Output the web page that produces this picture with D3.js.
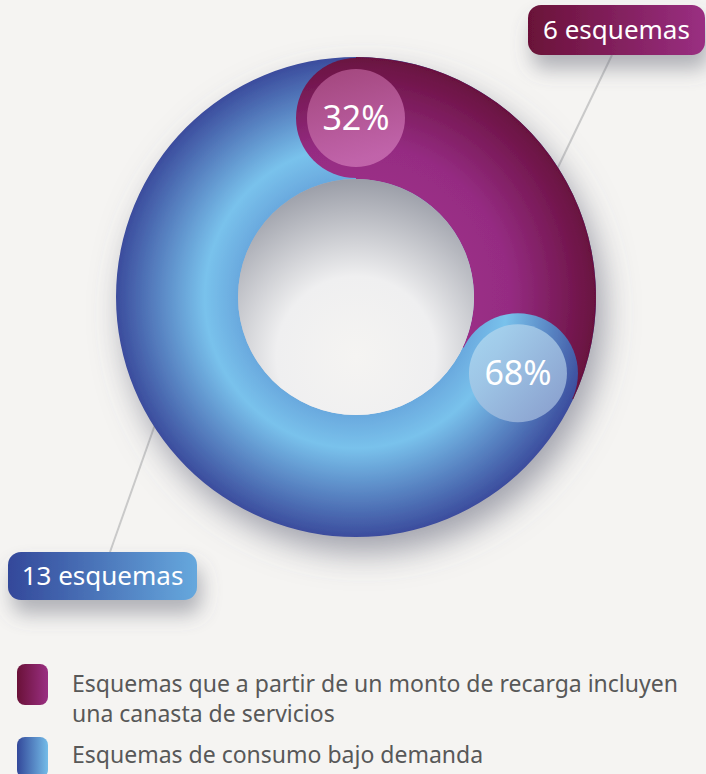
<!DOCTYPE html>
<html>
<head>
<meta charset="utf-8">
<script src="https://cdn.jsdelivr.net/npm/d3@7"></script>
<style>
  body { margin: 0; background: #f5f4f2; }
  svg { display: block; font-family: "Noto Sans", "Open Sans", sans-serif; }
</style>
</head>
<body>
<script>
// data
var categories = ["Esquemas que a partir de un monto de recarga incluyen una canasta de servicios",
                  "Esquemas de consumo bajo demanda"];
var legendLines = [["Esquemas que a partir de un monto de recarga incluyen", "una canasta de servicios"],
                   ["Esquemas de consumo bajo demanda"]];
var counts = [6, 13];
var percents = [32, 68];
var pctLabels = ["32%", "68%"];
var countLabels = ["6 esquemas", "13 esquemas"];

var width = 706, height = 774;
var cx = 356, cy = 297, outerR = 240, innerR = 118;
var midR = (outerR + innerR) / 2, capR = (outerR - innerR) / 2;

var svg = d3.select("body").append("svg")
    .attr("width", width)
    .attr("height", height);

var defs = svg.append("defs");

// radial gradients along the ring (group is translated, so centre is 0,0)
function ringGradient(id, stops) {
  var g = defs.append("radialGradient").attr("id", id)
      .attr("gradientUnits", "userSpaceOnUse")
      .attr("cx", 0).attr("cy", 0).attr("r", outerR);
  stops.forEach(function(s) {
    g.append("stop").attr("offset", s[0]).attr("stop-color", s[1]);
  });
}
ringGradient("ringPurple", [[innerR / outerR, "#9a2e86"], [0.64, "#952c82"], [1, "#69113f"]]);
ringGradient("ringBlue", [[innerR / outerR, "#6aa9de"], [0.63, "#79c2ec"], [1, "#3b4c9d"]]);

function linGradient(id, c0, c1, x2, y2) {
  var g = defs.append("linearGradient").attr("id", id)
      .attr("x1", 0).attr("y1", 0).attr("x2", x2).attr("y2", y2);
  g.append("stop").attr("offset", 0).attr("stop-color", c0);
  g.append("stop").attr("offset", 1).attr("stop-color", c1);
}
linGradient("boxPurple", "#6a1138", "#9a2f82", 1, 0);
linGradient("boxBlue", "#33489a", "#66a8dd", 1, 0);
linGradient("swPurple", "#6a1138", "#9a2f82", 1, 0);
linGradient("swBlue", "#33489a", "#74bce8", 1, 0);
linGradient("capPurple", "#a64a80", "#c468ad", 0.3, 1);
linGradient("capBlue", "#acdaf2", "#8ea2cf", 1, 1);

var hole = defs.append("radialGradient").attr("id", "hole")
    .attr("cx", 0.5).attr("cy", 0.75).attr("r", 0.75);
hole.append("stop").attr("offset", 0).attr("stop-color", "#f5f4f2");
hole.append("stop").attr("offset", 0.45).attr("stop-color", "#efeff0");
hole.append("stop").attr("offset", 1).attr("stop-color", "#9a9da7");

var shadow = defs.append("filter").attr("id", "shadow")
    .attr("x", "-30%").attr("y", "-30%").attr("width", "160%").attr("height", "160%");
shadow.append("feDropShadow").attr("dx", 8).attr("dy", 16).attr("stdDeviation", 16)
    .attr("flood-color", "#5d6172").attr("flood-opacity", 0.55);

var boxShadow = defs.append("filter").attr("id", "boxShadow")
    .attr("x", "-30%").attr("y", "-50%").attr("width", "160%").attr("height", "250%");
boxShadow.append("feDropShadow").attr("dx", 4).attr("dy", 14).attr("stdDeviation", 10)
    .attr("flood-color", "#5d6172").attr("flood-opacity", 0.45);

var pie = d3.pie().sort(null).value(function(d) { return d; });
var arcs = pie(percents);

var arc = d3.arc().innerRadius(innerR).outerRadius(outerR);

var g = svg.append("g").attr("transform", "translate(" + cx + "," + cy + ")");

// leader lines
var boxAnchors = [[612, 55], [110, 552]];
arcs.forEach(function(a, i) {
  var mid = (a.startAngle + a.endAngle) / 2;
  var p = d3.pointRadial(mid, outerR - 2);
  g.append("line")
      .attr("x1", p[0]).attr("y1", p[1])
      .attr("x2", boxAnchors[i][0] - cx).attr("y2", boxAnchors[i][1] - cy)
      .attr("stroke", "#c9c9c9").attr("stroke-width", 2);
});

var ring = g.append("g").attr("filter", "url(#shadow)");

// full blue ring underneath
ring.append("path")
    .attr("d", arc({startAngle: 0, endAngle: 2 * Math.PI}))
    .attr("fill", "url(#ringBlue)");

// purple segment + its round start cap
ring.append("path")
    .attr("d", arc(arcs[0]))
    .attr("fill", "url(#ringPurple)");
var pp = d3.pointRadial(arcs[0].startAngle, midR);
ring.append("circle")
    .attr("cx", pp[0]).attr("cy", pp[1]).attr("r", capR - 1)
    .attr("fill", "url(#ringPurple)");

// round start cap of the blue segment, on top of the purple
var bp = d3.pointRadial(arcs[1].startAngle, midR);
ring.append("circle")
    .attr("cx", bp[0]).attr("cy", bp[1]).attr("r", capR - 1)
    .attr("fill", "url(#ringBlue)");

// hole with soft inner shade
g.append("circle").attr("r", innerR).attr("fill", "url(#hole)");

// percentage bubbles
var capFills = ["url(#capPurple)", "url(#capBlue)"];
arcs.forEach(function(a, i) {
  var p = d3.pointRadial(a.startAngle, midR);
  g.append("circle")
      .attr("cx", p[0]).attr("cy", p[1]).attr("r", 49)
      .attr("fill", capFills[i]).attr("opacity", 0.92);
  g.append("text")
      .attr("x", p[0]).attr("y", p[1])
      .attr("dy", "0.36em")
      .attr("text-anchor", "middle")
      .attr("fill", "#fff")
      .style("font-size", "34px")
      .text(pctLabels[i]);
});

// count boxes
var boxes = [{x: 528, y: 5, w: 177, h: 50, tw: 153, fill: "url(#boxPurple)"},
             {x: 8, y: 552, w: 189, h: 48, tw: 172, fill: "url(#boxBlue)"}];
boxes.forEach(function(b, i) {
  svg.append("rect")
      .attr("x", b.x).attr("y", b.y).attr("width", b.w).attr("height", b.h)
      .attr("rx", 13).attr("fill", b.fill)
      .attr("filter", "url(#boxShadow)");
  var t = svg.append("text")
      .attr("x", b.x + b.w / 2).attr("y", b.y + b.h / 2)
      .attr("dy", "0.36em")
      .attr("text-anchor", "middle")
      .attr("fill", "#fff")
      .style("font-size", "24px")
      .text(countLabels[i]);
  // fit the label width to the box
  var len = t.node().getComputedTextLength();
  t.style("font-size", Math.min(26, 24 * b.tw / len) + "px");
});

// legend
var legend = svg.selectAll(".legend")
    .data(categories)
  .enter().append("g")
    .attr("class", "legend")
    .attr("transform", function(d, i) { return "translate(17," + (664 + i * 73) + ")"; });

legend.append("rect")
    .attr("width", 31).attr("height", 41).attr("rx", 8)
    .attr("fill", function(d, i) { return i === 0 ? "url(#swPurple)" : "url(#swBlue)"; });

var legendText = legend.append("text")
    .attr("x", 55).attr("y", function(d, i) { return i === 0 ? 28 : 26; })
    .attr("fill", "#585858")
    .style("font-size", "20px");
legendText.selectAll("tspan")
    .data(function(d, i) { return legendLines[i]; })
  .enter().append("tspan")
    .attr("x", 55)
    .attr("dy", function(l, j) { return j === 0 ? 0 : 30; })
    .text(function(l) { return l; });

// size the legend font so the long line spans like the original
var firstLine = legendText.select("tspan").node().getComputedTextLength();
legendText.style("font-size", Math.min(23, 20 * 622 / firstLine) + "px");
</script>
</body>
</html>
